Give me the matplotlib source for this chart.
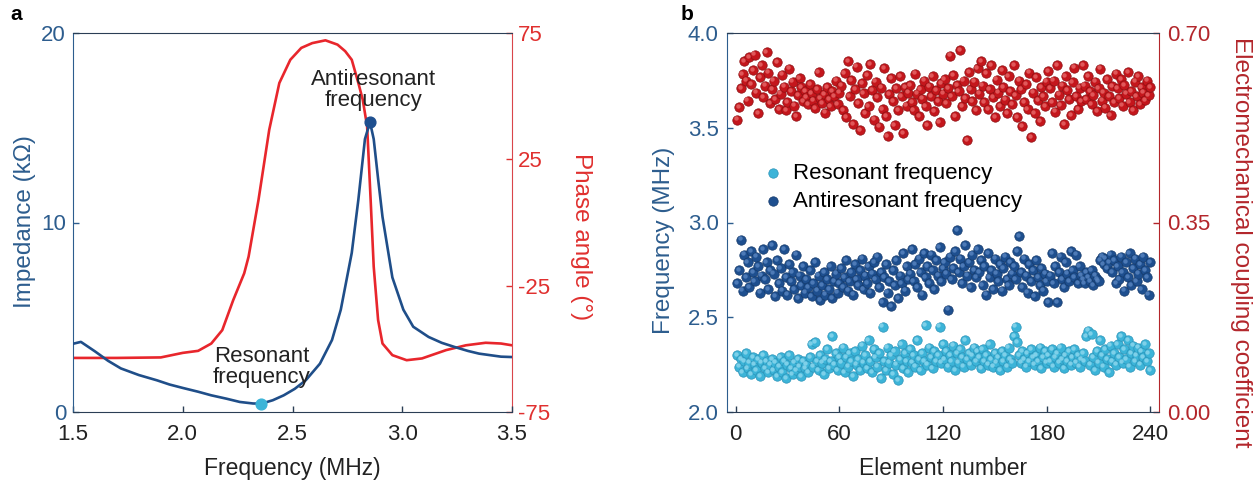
import matplotlib
matplotlib.use("Agg")
import matplotlib.pyplot as plt
import matplotlib.transforms as mtransforms
import numpy as np

plt.rcParams['font.family'] = ['Liberation Sans', 'DejaVu Sans']

# ---------------- Panel a data ----------------
imp_freq = [1.50, 1.536, 1.60, 1.66, 1.718, 1.80, 1.883, 1.94, 2.00, 2.07, 2.13, 2.20, 2.26, 2.32,
            2.358, 2.41, 2.46, 2.51, 2.56, 2.625, 2.68, 2.72, 2.77, 2.80, 2.83, 2.853, 2.87,
            2.89, 2.91, 2.955, 3.005, 3.05, 3.12, 3.18, 3.236, 3.30, 3.35, 3.45, 3.50]
imp_kohm = [3.6, 3.7, 3.2, 2.7, 2.3, 1.95, 1.67, 1.45, 1.27, 1.07, 0.88, 0.70, 0.53, 0.45,
            0.44, 0.62, 0.88, 1.22, 1.67, 2.55, 3.8, 5.4, 8.4, 11.2, 14.4, 15.3, 14.4,
            12.3, 10.3, 7.1, 5.4, 4.5, 3.96, 3.65, 3.44, 3.22, 3.08, 2.92, 2.9]

phase_freq = [1.50, 1.70, 1.90, 2.00, 2.07, 2.13, 2.18, 2.23, 2.28, 2.30, 2.345, 2.394, 2.44,
              2.49, 2.54, 2.59, 2.65, 2.705, 2.74, 2.77, 2.80, 2.82, 2.84, 2.856, 2.87, 2.89,
              2.91, 2.955, 3.02, 3.09, 3.20, 3.29, 3.38, 3.45, 3.50]
phase_deg = [-53.6, -53.6, -53.4, -51.6, -50.8, -47.9, -42.6, -30.7, -20.1, -13.5, 8.9, 36.7, 55.2,
             64.4, 69.1, 71.0, 72.1, 70.4, 67.8, 64.4, 55.2, 48.6, 38.0, 8.9, -17.5, -38.6,
             -47.9, -52.5, -54.5, -53.8, -50.5, -48.6, -47.6, -47.9, -48.6]

res_point = (2.358, 0.44)
antires_point = (2.853, 15.3)

# ---------------- Panel b data ----------------
element = list(range(1, 241))

coupling = [
    0.540, 0.563, 0.598, 0.624, 0.648, 0.612, 0.575, 0.655, 0.606, 0.631, 0.660, 0.590, 0.552, 0.618, 0.640, 0.582, 0.603, 0.665, 0.627, 0.571,
    0.596, 0.612, 0.578, 0.646, 0.560, 0.588, 0.623, 0.601, 0.557, 0.572, 0.634, 0.592, 0.610, 0.566, 0.547, 0.585, 0.617, 0.600, 0.574, 0.593,
    0.582, 0.569, 0.605, 0.589, 0.575, 0.561, 0.596, 0.628, 0.580, 0.571, 0.587, 0.553, 0.600, 0.578, 0.565, 0.592, 0.583, 0.612, 0.569, 0.590,
    0.603, 0.557, 0.626, 0.545, 0.648, 0.584, 0.613, 0.532, 0.596, 0.638, 0.571, 0.520, 0.608, 0.589, 0.552, 0.622, 0.565, 0.642, 0.594, 0.540,
    0.610, 0.581, 0.527, 0.599, 0.560, 0.635, 0.546, 0.509, 0.587, 0.616, 0.574, 0.530, 0.598, 0.557, 0.621, 0.583, 0.515, 0.600, 0.566, 0.590,
    0.604, 0.573, 0.558, 0.625, 0.588, 0.546, 0.597, 0.579, 0.612, 0.565, 0.530, 0.601, 0.583, 0.620, 0.556, 0.594, 0.574, 0.535, 0.607, 0.588,
    0.615, 0.571, 0.598, 0.658, 0.583, 0.622, 0.547, 0.604, 0.592, 0.669, 0.565, 0.612, 0.580, 0.502, 0.628, 0.596, 0.574, 0.610, 0.557, 0.635,
    0.588, 0.648, 0.603, 0.572, 0.626, 0.559, 0.596, 0.640, 0.581, 0.545, 0.614, 0.590, 0.565, 0.632, 0.600, 0.577, 0.552, 0.621, 0.593, 0.568,
    0.640, 0.585, 0.545, 0.612, 0.596, 0.528, 0.573, 0.605, 0.560, 0.627, 0.508, 0.590, 0.552, 0.618, 0.576, 0.537, 0.600, 0.583, 0.565, 0.610,
    0.630, 0.598, 0.573, 0.612, 0.555, 0.640, 0.586, 0.567, 0.603, 0.532, 0.621, 0.594, 0.578, 0.548, 0.609, 0.636, 0.583, 0.560, 0.599, 0.574,
    0.641, 0.603, 0.578, 0.620, 0.592, 0.568, 0.585, 0.610, 0.556, 0.598, 0.634, 0.575, 0.590, 0.562, 0.615, 0.583, 0.548, 0.602, 0.572, 0.625,
    0.598, 0.580, 0.615, 0.566, 0.604, 0.588, 0.628, 0.572, 0.593, 0.557, 0.610, 0.583, 0.620, 0.569, 0.600, 0.590, 0.576, 0.612, 0.585, 0.600,
]

antires_freq = [
    2.68, 2.75, 2.91, 2.64, 2.83, 2.71, 2.79, 2.66, 2.85, 2.74, 2.69, 2.82, 2.77, 2.63, 2.72, 2.86, 2.70, 2.79, 2.65, 2.75,
    2.88, 2.73, 2.61, 2.80, 2.68, 2.76, 2.64, 2.86, 2.71, 2.62, 2.78, 2.69, 2.74, 2.65, 2.83, 2.60, 2.72, 2.67, 2.77, 2.63,
    2.70, 2.66, 2.75, 2.61, 2.68, 2.79, 2.64, 2.72, 2.59, 2.67, 2.74, 2.62, 2.70, 2.65, 2.77, 2.60, 2.69, 2.73, 2.63, 2.68,
    2.76, 2.66, 2.71, 2.80, 2.64, 2.69, 2.74, 2.62, 2.78, 2.70, 2.67, 2.75, 2.81, 2.65, 2.72, 2.68, 2.77, 2.63, 2.73, 2.79,
    2.70, 2.82, 2.66, 2.74, 2.58, 2.71, 2.78, 2.63, 2.69, 2.56, 2.75, 2.67, 2.80, 2.60, 2.72, 2.68, 2.84, 2.64, 2.77, 2.70,
    2.73, 2.86, 2.69, 2.78, 2.66, 2.81, 2.74, 2.62, 2.84, 2.71, 2.77, 2.68, 2.83, 2.75, 2.65, 2.80, 2.72, 2.87, 2.69, 2.76,
    2.79, 2.73, 2.54, 2.82, 2.70, 2.76, 2.85, 2.96, 2.74, 2.81, 2.68, 2.77, 2.88, 2.72, 2.79, 2.66, 2.83, 2.75, 2.71, 2.86,
    2.74, 2.80, 2.67, 2.77, 2.62, 2.84, 2.71, 2.75, 2.65, 2.81, 2.73, 2.69, 2.78, 2.64, 2.76, 2.82, 2.70, 2.67, 2.79, 2.73,
    2.77, 2.70, 2.85, 2.93, 2.74, 2.66, 2.81, 2.72, 2.63, 2.78, 2.69, 2.75, 2.61, 2.80, 2.71, 2.67, 2.76, 2.64, 2.73, 2.69,
    2.58, 2.72, 2.84, 2.68, 2.77, 2.58, 2.74, 2.82, 2.70, 2.66, 2.79, 2.73, 2.69, 2.85, 2.75, 2.71, 2.83, 2.68, 2.77, 2.72,
    2.70, 2.68, 2.74, 2.71, 2.69, 2.75, 2.67, 2.72, 2.70, 2.69, 2.80, 2.82, 2.78, 2.81, 2.76, 2.79, 2.83, 2.74, 2.80, 2.68,
    2.77, 2.70, 2.82, 2.74, 2.64, 2.79, 2.71, 2.84, 2.67, 2.76, 2.81, 2.69, 2.73, 2.78, 2.65, 2.82, 2.75, 2.71, 2.62, 2.79,
]

res_freq = [
    2.30, 2.24, 2.28, 2.21, 2.27, 2.31, 2.23, 2.26, 2.20, 2.29, 2.25, 2.22, 2.28, 2.19, 2.26, 2.30, 2.23, 2.27, 2.21, 2.25,
    2.28, 2.22, 2.26, 2.19, 2.24, 2.29, 2.21, 2.27, 2.18, 2.25, 2.30, 2.23, 2.20, 2.26, 2.22, 2.28, 2.24, 2.19, 2.27, 2.23,
    2.25, 2.21, 2.29, 2.36, 2.24, 2.37, 2.27, 2.22, 2.30, 2.26, 2.20, 2.28, 2.33, 2.23, 2.27, 2.40, 2.25, 2.31, 2.22, 2.29,
    2.26, 2.34, 2.21, 2.29, 2.24, 2.31, 2.27, 2.19, 2.32, 2.25, 2.28, 2.22, 2.35, 2.26, 2.30, 2.23, 2.38, 2.27, 2.21, 2.33,
    2.29, 2.24, 2.31, 2.18, 2.45, 2.27, 2.22, 2.34, 2.26, 2.30, 2.20, 2.32, 2.25, 2.17, 2.28, 2.36, 2.23, 2.31, 2.27, 2.21,
    2.33, 2.26, 2.30, 2.24, 2.38, 2.28, 2.22, 2.31, 2.27, 2.46, 2.25, 2.34, 2.29, 2.23, 2.32, 2.27, 2.30, 2.45, 2.26, 2.36,
    2.28, 2.32, 2.24, 2.30, 2.27, 2.35, 2.22, 2.31, 2.26, 2.33, 2.29, 2.24, 2.38, 2.28, 2.31, 2.25, 2.30, 2.34, 2.27, 2.32,
    2.29, 2.23, 2.33, 2.27, 2.30, 2.25, 2.36, 2.28, 2.24, 2.31, 2.26, 2.29, 2.22, 2.32, 2.27, 2.30, 2.24, 2.34, 2.28, 2.26,
    2.40, 2.45, 2.37, 2.30, 2.26, 2.32, 2.28, 2.24, 2.31, 2.27, 2.33, 2.29, 2.25, 2.30, 2.27, 2.34, 2.23, 2.29, 2.32, 2.26,
    2.30, 2.27, 2.33, 2.24, 2.29, 2.31, 2.26, 2.34, 2.28, 2.23, 2.30, 2.27, 2.32, 2.25, 2.29, 2.33, 2.26, 2.30, 2.24, 2.28,
    2.31, 2.27, 2.40, 2.43, 2.25, 2.41, 2.29, 2.22, 2.32, 2.26, 2.38, 2.30, 2.24, 2.33, 2.28, 2.21, 2.35, 2.27, 2.31, 2.25,
    2.36, 2.29, 2.40, 2.26, 2.33, 2.28, 2.38, 2.24, 2.31, 2.35, 2.27, 2.30, 2.34, 2.25, 2.32, 2.29, 2.36, 2.27, 2.31, 2.22,
]

# ---------------- Colours ----------------
BLUE_LINE = '#1f4e89'
RED_LINE = '#e8262c'
BLUE_TXT = '#2d5d8e'
RED_TXT = '#e0302f'
DARKRED = '#b3262b'
LIGHT_BLUE = '#3cb4d8'
DARK_BLUE = '#1e4f8f'
RED_DOT = '#c4161c'
SPINE = '#2b3e55'

TICK_FS = 16
LABEL_FS = 16.5
VLABEL_FS = 17.5

W, H = 1258, 484
fig = plt.figure(figsize=(W / 100, H / 100), dpi=100)

def frac(x0, y0, x1, y1):
    return [x0 / W, 1 - y1 / H, (x1 - x0) / W, (y1 - y0) / H]

def place_ylabel(ax, text, color, px_x, px_y, rotation):
    # position given in figure pixels (centre of the label)
    lab = ax.set_ylabel(text, fontsize=VLABEL_FS, color=color, rotation=rotation,
                        ha='center', va='center')
    inv = ax.transAxes.inverted()
    xa, ya = inv.transform(fig.transFigure.transform((px_x / W, 1 - px_y / H)))
    (ax.yaxis).set_label_coords(xa, ya)
    return lab

# ---------------- Panel a ----------------
axa = fig.add_axes(frac(73, 33, 512, 412))
axa2 = axa.twinx()
axa.plot(imp_freq, imp_kohm, color=BLUE_LINE, lw=1.9, zorder=3)
axa2.plot(phase_freq, phase_deg, color=RED_LINE, lw=1.9, zorder=2)
axa.set_zorder(axa2.get_zorder() + 1)
axa.patch.set_visible(False)
axa.scatter([res_point[0]], [res_point[1]], s=60, color=LIGHT_BLUE, zorder=5, clip_on=False)
axa.scatter([antires_point[0]], [antires_point[1]], s=60, color=DARK_BLUE, zorder=5)

axa.set_xlim(1.5, 3.5)
axa.set_ylim(0, 20)
axa2.set_ylim(-75, 75)
axa.set_xticks([1.5, 2.0, 2.5, 3.0, 3.5])
axa.set_xticklabels(['1.5', '2.0', '2.5', '3.0', '3.5'])
axa.set_yticks([0, 10, 20])
axa2.set_yticks([-75, -25, 25, 75])
axa2.set_yticklabels(['-75', '-25', '25', '75'])

for ax in (axa, axa2):
    ax.tick_params(direction='in', length=4, width=1, labelsize=TICK_FS)
axa.tick_params(axis='x', colors=SPINE, labelcolor='#222222', pad=9)
axa.tick_params(axis='y', colors=BLUE_TXT, labelcolor=BLUE_TXT, pad=5)
axa2.tick_params(axis='y', colors=RED_TXT, labelcolor=RED_TXT, pad=4)

axa.spines['left'].set_color(BLUE_TXT)
axa.spines['top'].set_color(SPINE)
axa.spines['bottom'].set_color(SPINE)
axa.spines['right'].set_visible(False)
axa2.spines['right'].set_color('#d9454a')
axa2.spines['left'].set_visible(False)
axa2.spines['top'].set_visible(False)
axa2.spines['bottom'].set_visible(False)

axa.set_xlabel('Frequency (MHz)', fontsize=LABEL_FS, color='#222222', labelpad=8)
place_ylabel(axa, 'Impedance (kΩ)', BLUE_TXT, 25, 222, 90)
place_ylabel(axa2, 'Phase angle (°)', RED_TXT, 581, 237, 270)

axa.text(2.87, 17.0, 'Antiresonant\nfrequency', ha='center', va='center', fontsize=16,
         color='#222222', linespacing=1.0, zorder=6)
axa.text(2.36, 2.4, 'Resonant\nfrequency', ha='center', va='center', fontsize=16,
         color='#222222', linespacing=1.0, zorder=6)

fig.text(10 / W, 1 - 14 / H, 'a', fontsize=15, fontweight='bold', va='center')
fig.text(681 / W, 1 - 14 / H, 'b', fontsize=15, fontweight='bold', va='center')

# ---------------- Panel b ----------------
axb = fig.add_axes(frac(727, 33, 1159, 412))
axb2 = axb.twinx()

def sphere(ax, x, y, base, edge, hi, label=None):
    ax.scatter(x, y, s=46, color=base, edgecolors=edge, linewidths=0.5, zorder=3, label=label)
    off = mtransforms.offset_copy(ax.transData, fig=fig, x=-0.9, y=0.9, units='points')
    ax.scatter(x, y, s=10, color=hi, linewidths=0, zorder=4, transform=off, alpha=0.8)

sphere(axb2, element, coupling, RED_DOT, '#8c0f12', '#e86a6a')
sphere(axb, element, antires_freq, DARK_BLUE, '#143a6b', '#5a86c2')
sphere(axb, element, res_freq, LIGHT_BLUE, '#2a93b8', '#8fd8ee')

axb.set_zorder(axb2.get_zorder() + 1)
axb.patch.set_visible(False)

# legend handles
h1 = axb.scatter([], [], s=46, color=LIGHT_BLUE, edgecolors='#2a93b8', linewidths=0.5)
h2 = axb.scatter([], [], s=46, color=DARK_BLUE, edgecolors='#143a6b', linewidths=0.5)
leg = axb.legend([h1, h2], ['Resonant frequency', 'Antiresonant frequency'], loc='upper left',
                 bbox_to_anchor=(0.055, 0.68), frameon=False, fontsize=16, handletextpad=0.3,
                 borderaxespad=0, labelspacing=0.3, handlelength=1.2)

axb.set_xlim(-5, 245)
axb.set_ylim(2.0, 4.0)
axb2.set_ylim(0.0, 0.70)
axb.set_xticks([0, 60, 120, 180, 240])
axb.set_yticks([2.0, 2.5, 3.0, 3.5, 4.0])
axb.set_yticklabels(['2.0', '2.5', '3.0', '3.5', '4.0'])
axb2.set_yticks([0.0, 0.35, 0.70])
axb2.set_yticklabels(['0.00', '0.35', '0.70'])

for ax in (axb, axb2):
    ax.tick_params(direction='in', length=4, width=1, labelsize=TICK_FS)
axb.tick_params(axis='x', colors=SPINE, labelcolor='#222222', pad=9)
axb.tick_params(axis='y', colors=BLUE_TXT, labelcolor=BLUE_TXT, pad=6)
axb2.tick_params(axis='y', colors=DARKRED, labelcolor=DARKRED, pad=6)

axb.spines['left'].set_color(BLUE_TXT)
axb.spines['top'].set_color(SPINE)
axb.spines['bottom'].set_color(SPINE)
axb.spines['right'].set_visible(False)
axb2.spines['right'].set_color(DARKRED)
axb2.spines['left'].set_visible(False)
axb2.spines['top'].set_visible(False)
axb2.spines['bottom'].set_visible(False)

axb.set_xlabel('Element number', fontsize=LABEL_FS, color='#222222', labelpad=8)
place_ylabel(axb, 'Frequency (MHz)', BLUE_TXT, 664, 240, 90)
place_ylabel(axb2, 'Electromechanical coupling coefficient', DARKRED, 1241, 242, 270)

fig.savefig('out.png', dpi=100)
